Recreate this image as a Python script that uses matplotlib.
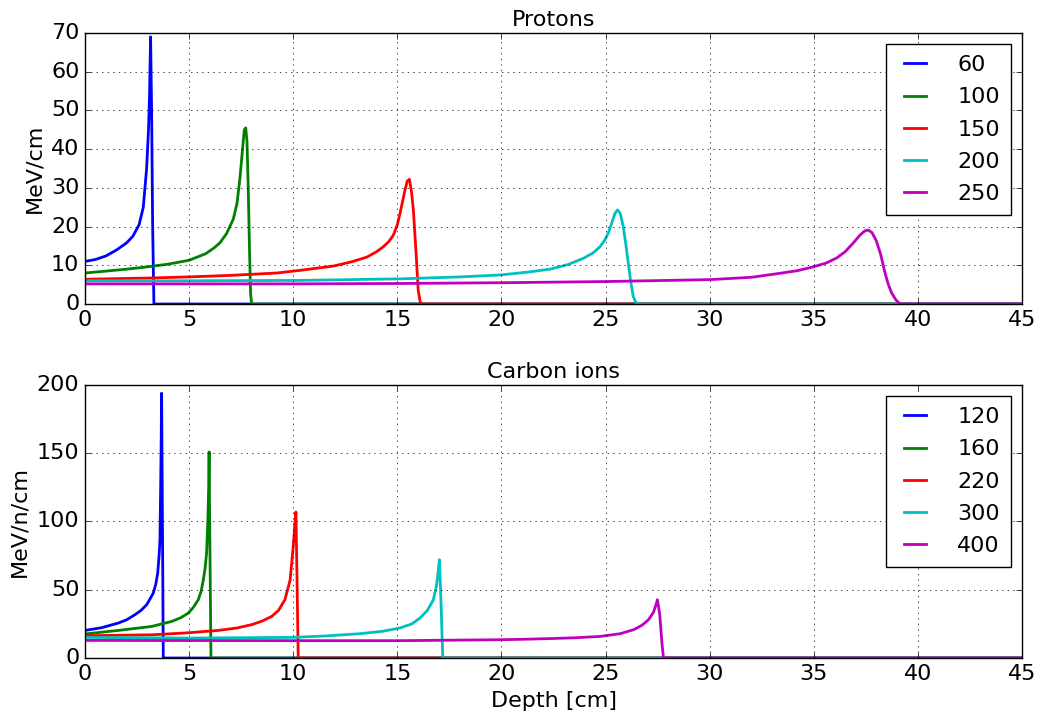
import numpy as np
import matplotlib
matplotlib.use('Agg')
import matplotlib.pyplot as plt

plt.style.use('classic')
plt.rcParams['font.size'] = 16
plt.rcParams['font.family'] = ['DejaVu Sans']

# proton curves: depth [cm] / stopping power [MeV/cm]
p_labels = ['60', '100', '150', '200', '250']
p60_x = [0, 0.5, 1.0, 1.5, 2.0, 2.3, 2.6, 2.8, 2.96, 3.05, 3.1, 3.15, 3.2, 3.25, 3.31, 45]
p60_y = [11.0, 11.5, 12.4, 13.9, 15.8, 17.5, 20.5, 25.0, 35.0, 45.0, 54.0, 69.0, 50.0, 20.0, 0, 0]
p100_x = [0, 1, 2, 3, 4, 5, 5.8, 6.2, 6.48, 6.8, 7.12, 7.3, 7.44, 7.55, 7.65, 7.72, 7.78, 7.84, 7.9, 7.95, 8.0, 45]
p100_y = [8.0, 8.5, 9.0, 9.6, 10.3, 11.3, 13.0, 14.5, 15.8, 18.2, 21.9, 26.0, 32.4, 39.0, 45.0, 45.5, 42.0, 30.0, 14.0, 3.0, 0, 0]
p150_x = [0, 3, 5, 7, 9.2, 10.33, 11.93, 12.8, 13.53, 14.0, 14.33, 14.6, 14.81, 15.0, 15.13, 15.25, 15.37,
          15.48, 15.58, 15.68, 15.77, 15.9, 16.0, 16.1, 16.17, 45]
p150_y = [6.4, 6.7, 7.0, 7.4, 8.0, 8.7, 9.8, 10.9, 12.1, 13.5, 14.8, 16.2, 17.8, 20.5, 23.4, 26.5, 29.5,
          31.8, 32.2, 29.0, 24.3, 13.1, 3.6, 0.5, 0, 0]
p200_x = [0, 5, 10.33, 15.13, 18, 19.93, 21.2, 22.33, 23.2, 23.93, 24.4, 24.73, 24.95, 25.13, 25.3, 25.45,
          25.57, 25.7, 25.85, 25.97, 26.09, 26.2, 26.33, 26.45, 26.6, 45]
p200_y = [6.0, 6.0, 6.1, 6.5, 7.0, 7.5, 8.2, 9.0, 10.2, 11.8, 13.2, 14.8, 16.4, 18.3, 21.0, 23.4,
          24.3, 23.5, 20.0, 15.5, 10.5, 6.0, 1.9, 0.4, 0, 0]
p250_x = [0, 10, 15, 20, 25, 30, 32, 33.2, 34.2, 34.98, 35.6, 36.1, 36.5, 36.9, 37.2, 37.45, 37.62,
          37.8, 38.0, 38.2, 38.42, 38.58, 38.74, 38.95, 39.14, 45]
p250_y = [5.2, 5.2, 5.3, 5.5, 5.8, 6.3, 6.9, 7.8, 8.6, 9.6, 10.6, 11.9, 13.5, 15.8, 17.7, 18.9, 19.1,
          18.4, 16.3, 13.0, 8.0, 5.0, 2.8, 1.0, 0, 0]

# carbon ion curves: depth [cm] / stopping power [MeV/n/cm]
c_labels = ['120', '160', '220', '300', '400']
c120_x = [0, 0.8, 1.6, 2.0, 2.4, 2.7, 2.96, 3.15, 3.28, 3.4, 3.49, 3.56, 3.6, 3.63, 3.66, 3.68, 3.72, 3.76, 45]
c120_y = [20.2, 22.2, 25.6, 28.0, 31.7, 35.0, 39.0, 44.0, 47.6, 54.0, 62.0, 75.0, 86.6, 120.0, 160.0, 194.0, 100.0, 0, 0]
c160_x = [0, 1.6, 3.2, 4.16, 4.6, 4.96, 5.2, 5.44, 5.58, 5.68, 5.77, 5.84, 5.9, 5.94, 5.96, 6.0, 6.05, 45]
c160_y = [17.6, 20.2, 23.1, 26.8, 29.5, 32.9, 37.0, 42.7, 49.0, 57.0, 66.0, 76.9, 100.0, 125.0, 151.0, 80.0, 0, 0]
c220_x = [0, 3.2, 4.8, 6.4, 7.3, 8.0, 8.5, 8.97, 9.3, 9.6, 9.85, 10.0, 10.08, 10.13, 10.18, 10.24, 45]
c220_y = [16.3, 17.0, 18.3, 20.2, 22.0, 24.4, 27.0, 30.5, 35.0, 42.7, 57.0, 81.7, 98.0, 107.0, 60.0, 0, 0]
c300_x = [0, 5, 10, 11.6, 13.2, 14.3, 15.13, 15.7, 16.09, 16.45, 16.73, 16.88, 16.96, 17.02, 17.1, 17.18, 45]
c300_y = [15.1, 14.6, 15.1, 16.2, 17.8, 19.6, 22.0, 25.0, 29.3, 35.0, 42.7, 53.0, 63.0, 72.0, 40.0, 0, 0]
c400_x = [0, 10, 15.13, 19.93, 21, 22.5, 23.5, 24.74, 25.7, 26.34, 26.75, 27.06, 27.3, 27.42, 27.49, 27.6, 27.7, 27.78, 45]
c400_y = [12.9, 12.7, 12.7, 13.4, 13.7, 14.3, 14.8, 15.8, 17.8, 20.7, 24.0, 28.0, 33.5, 39.0, 42.7, 32.0, 12.0, 0, 0]

colors = ['b', 'g', 'r', 'c', 'm']
leg_kw = dict(loc='upper right', fontsize=16, handlelength=1.6, handletextpad=1.1,
              labelspacing=0.55, borderpad=0.5)

fig = plt.figure(figsize=(10.44, 7.16), dpi=100, facecolor='w')
ax1 = fig.add_axes([0.0814, 0.5754, 0.8976, 0.3785])
ax2 = fig.add_axes([0.0814, 0.0810, 0.8976, 0.3813])

for (x, y), lab, c in zip([(p60_x, p60_y), (p100_x, p100_y), (p150_x, p150_y),
                           (p200_x, p200_y), (p250_x, p250_y)], p_labels, colors):
    ax1.plot(x, y, color=c, lw=2, label=lab)
ax1.set_xlim(0, 45)
ax1.set_ylim(0, 70)
ax1.set_title('Protons', fontsize=16)
ax1.set_ylabel('MeV/cm')
ax1.grid(True)
ax1.legend(**leg_kw)

for (x, y), lab, c in zip([(c120_x, c120_y), (c160_x, c160_y), (c220_x, c220_y),
                           (c300_x, c300_y), (c400_x, c400_y)], c_labels, colors):
    ax2.plot(x, y, color=c, lw=2, label=lab)
ax2.set_xlim(0, 45)
ax2.set_ylim(0, 200)
ax2.set_title('Carbon ions', fontsize=16)
ax2.set_ylabel('MeV/n/cm')
ax2.set_xlabel('Depth [cm]')
ax2.grid(True)
ax2.legend(**leg_kw)

fig.savefig('out.png', dpi=100, facecolor='w')
